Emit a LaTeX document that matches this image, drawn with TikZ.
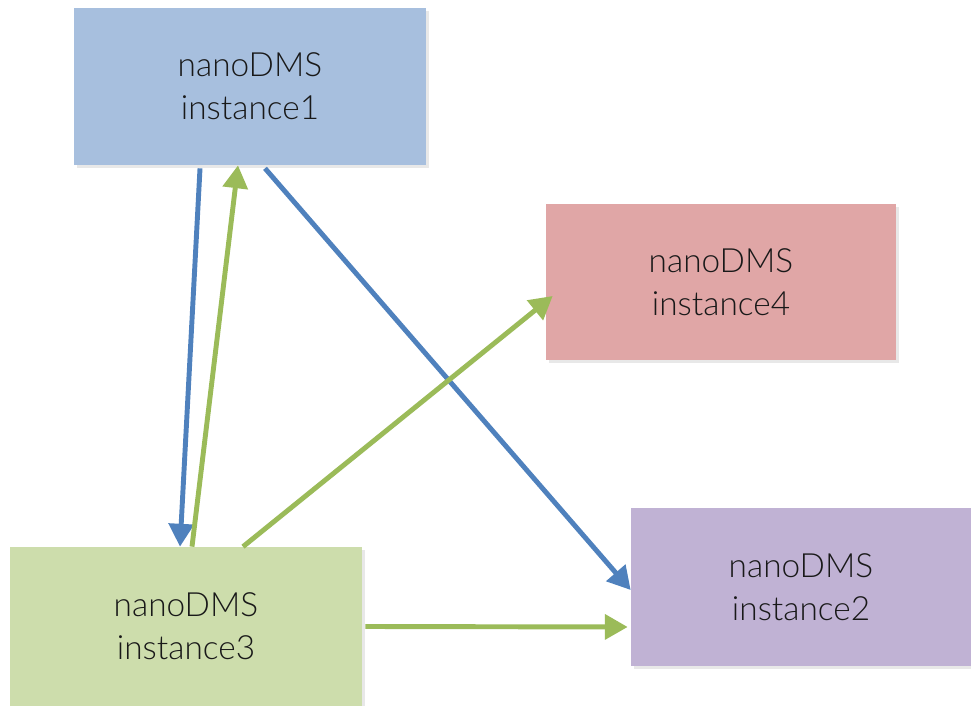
\documentclass[tikz,border=0pt]{standalone}
\usepackage{fontspec}
\setmainfont{Lato Light}
\usepackage{tikz}
\usetikzlibrary{arrows.meta,shadows}

\definecolor{boxblue}{HTML}{A7BFDE}
\definecolor{boxred}{HTML}{E0A6A6}
\definecolor{boxpurple}{HTML}{C0B2D4}
\definecolor{boxgreen}{HTML}{CDDDAC}
\definecolor{lineblue}{HTML}{4F81BD}
\definecolor{linegreen}{HTML}{9BBB59}

\begin{document}
\begin{tikzpicture}[
x=0.02cm, y=-0.02cm,
dmsnode/.style={rectangle, minimum width=7.04cm, minimum height=3.14cm,
  align=center, text=black!90, font=\fontsize{19}{24.5}\selectfont,
  drop shadow={opacity=0.18, shadow xshift=1.5pt, shadow yshift=-1.5pt}},
link/.style={line width=2.8pt, -{Triangle[length=13pt, width=14pt]}},
]
\useasboundingbox (0,0) rectangle (971,706);
%Nodes
\node[dmsnode, fill=boxblue](inst1) at (250,86.5){nanoDMS\\instance1};
\node[dmsnode, fill=boxred, minimum width=7cm, minimum height=3.12cm](inst4) at (721,282){nanoDMS\\instance4};
\node[dmsnode, fill=boxpurple, minimum width=6.8cm, minimum height=3.16cm](inst2) at (801,587){nanoDMS\\instance2};
\node[dmsnode, fill=boxgreen, minimum height=3.18cm](inst3) at (186,626.5){nanoDMS\\instance3};

\draw[link, lineblue]([xshift=-1cm, yshift=-0.06cm]inst1.south) -- ([xshift=-0.12cm]inst3.north);
\draw[link, linegreen]([xshift=0.12cm]inst3.north) -- ([xshift=-0.24cm]inst1.south);
\draw[link, lineblue]([xshift=0.3cm, yshift=-0.06cm]inst1.south) -- ([yshift=-0.06cm]inst2.west);
\draw[link, linegreen]([xshift=1.14cm]inst3.north) -- ([xshift=0.14cm, yshift=-0.28cm]inst4.west);
\draw[link, linegreen]([xshift=0.06cm]inst3.east) -- ([yshift=-0.8cm, xshift=-0.06cm]inst2.west);
\end{tikzpicture}
\end{document}
